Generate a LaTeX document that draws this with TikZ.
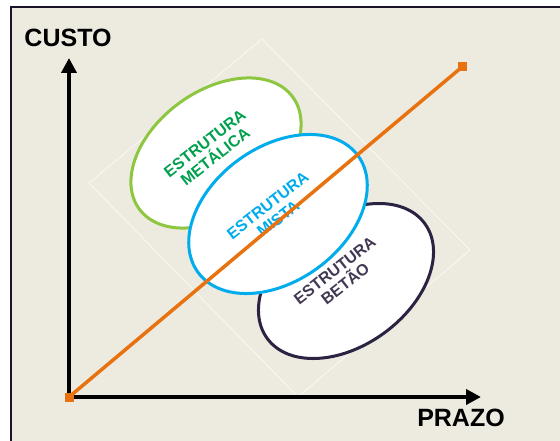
\documentclass[tikz,border=0pt]{standalone}
\usepackage{fontspec}
\setmainfont{Liberation Sans}
\usetikzlibrary{shapes.geometric,arrows.meta}
\definecolor{fundo}{RGB}{237,234,224}
\definecolor{verdeclaro}{RGB}{141,198,63}
\definecolor{verde}{RGB}{0,160,78}
\definecolor{azul}{RGB}{0,172,236}
\definecolor{roxo}{RGB}{44,34,66}
\definecolor{roxotexto}{RGB}{66,56,84}
\definecolor{laranja}{RGB}{232,114,16}

\begin{document}
\begin{tikzpicture}[x=1pt,y=-1pt,
          eixo/.style = {line width=4.5pt,-{Triangle[length=15pt,width=15pt]}},
          bolha/.style = {shape=ellipse, draw, fill=white, line width=3pt,
          rotate=36, inner sep=0pt},
          rotulo/.style = {rotate=38, inner sep=0pt, align=center,
          font=\bfseries\fontsize{16}{17}\selectfont},
          titulo/.style = {font=\bfseries\fontsize{25}{25}\selectfont},
          marca/.style = {shape=rectangle, fill=laranja, inner sep=0pt,
          minimum size=9pt}
          ]
  \useasboundingbox (0,0) rectangle (560,441);
  \fill[white] (0,0) rectangle (560,441);
  \fill[fundo] (11,7) rectangle (560,441);
  \draw[line width=2.5pt, roxo!60!black] (11,441) -- (11,7) -- (560,7);
  % losango de fundo
  \draw[white, opacity=0.8, line width=0.7pt] (262,39) -- (470,250) -- (298,397) -- (89,183) -- cycle;
  % eixos
  \coordinate (origem) at (69,397);
  \coordinate (topo) at (69,58);
  \coordinate (fim) at (481,397);
  \draw[eixo] (origem) -- (topo);
  \draw[eixo] (origem) -- (fim);
  \node[titulo] (custo) at (68,38) {CUSTO};
  \node[titulo] (prazo) at (461,418) {PRAZO};
  % estruturas
  \node[bolha, draw=verdeclaro, minimum width=190pt, minimum height=124pt]
    (metalica) at (216,153) {};
  \node[bolha, draw=roxo, minimum width=195pt, minimum height=129pt]
    (betao) at (346,281) {};
  \node[bolha, draw=azul, minimum width=198pt, minimum height=134pt]
    (mista) at (278,214) {};
  \node[rotulo, text=verde] (metalica-txt) at (210,150) {ESTRUTURA\\MET\'ALICA};
  \node[rotulo, text=azul] (mista-txt) at (273,212) {ESTRUTURA\\MISTA};
  \node[rotulo, text=roxotexto] (betao-txt) at (340,277) {ESTRUTURA\\BET\~AO};
  % reta
  \node[marca] (inicio) at (origem) {};
  \node[marca] (alvo) at (462,67) {};
  \draw[laranja, line width=3.5pt] (inicio.center) -- (alvo.center);
\end{tikzpicture}
\end{document}
